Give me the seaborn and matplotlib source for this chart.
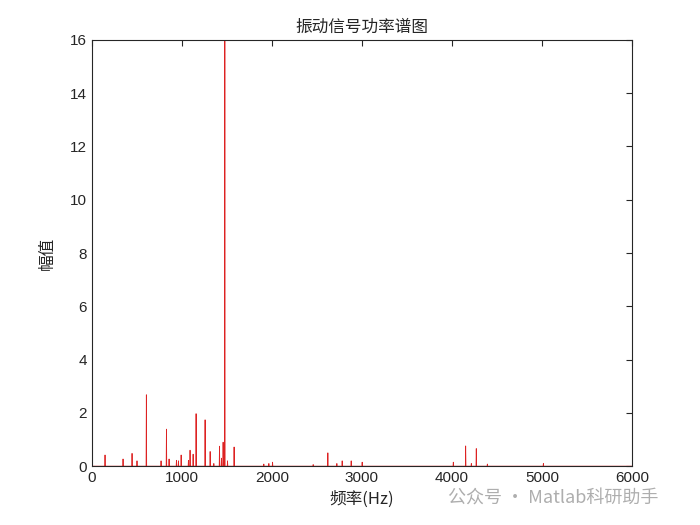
import numpy as np
import pandas as pd
import matplotlib
matplotlib.use("Agg")
import matplotlib.pyplot as plt
import seaborn as sns

# Spectral peaks (Hz, amplitude)
peak_freq = [148, 348, 448, 503, 607, 770, 830, 859, 941, 963, 993, 1074, 1092, 1126,
             1159, 1259, 1315, 1356, 1419, 1441, 1459, 1478, 1508, 1581, 1911, 1967,
             2008, 2459, 2622, 2722, 2781, 2881, 3003, 4015, 4152, 4215, 4270, 4393, 5015]
peak_amp = [0.42, 0.27, 0.48, 0.2, 2.68, 0.2, 1.39, 0.27, 0.22, 0.2, 0.42, 0.22, 0.6, 0.45,
            1.97, 1.74, 0.55, 0.1, 0.75, 0.3, 0.9, 25.0, 0.2, 0.72, 0.08, 0.1,
            0.15, 0.06, 0.5, 0.1, 0.2, 0.2, 0.15, 0.15, 0.76, 0.1, 0.66, 0.08, 0.1]

x_ticks = [0, 1000, 2000, 3000, 4000, 5000, 6000]
y_ticks = [0, 2, 4, 6, 8, 10, 12, 14, 16]

# build a spike trace: baseline -> peak -> baseline for each line
f_pts, a_pts = [0], [0]
for f, a in zip(peak_freq, peak_amp):
    f_pts += [f - 3, f, f + 3]
    a_pts += [0, a, 0]
f_pts.append(6000)
a_pts.append(0)
spec = pd.DataFrame({"freq": f_pts, "amp": a_pts})

sns.set_style("white")
plt.rcParams["font.family"] = ["Liberation Sans", "Noto Sans CJK SC", "DejaVu Sans"]

fig = plt.figure(figsize=(7, 5.25), dpi=100)
ax = fig.add_axes([0.131, 0.112, 0.772, 0.812])
sns.lineplot(data=spec, x="freq", y="amp", estimator=None, sort=False,
             color="#dd2222", linewidth=0.6, ax=ax)

ax.set_xlim(0, 6000)
ax.set_ylim(0, 16)
ax.set_xticks(x_ticks)
ax.set_yticks(y_ticks)
ax.tick_params(direction="in", top=True, right=True, labelsize=11, length=4, width=0.8)
for s in ax.spines.values():
    s.set_linewidth(0.8)
    s.set_color("#262626")

ax.set_title("振动信号功率谱图", fontsize=12, family=["Noto Sans CJK SC"], pad=6)
ax.set_xlabel("频率(Hz)", fontsize=12, family=["Noto Sans CJK SC", "Liberation Sans"], labelpad=4)
ax.set_ylabel("幅值", fontsize=12, family=["Noto Sans CJK SC"], labelpad=10)

fig.text(0.64, 0.04, "公众号 · Matlab科研助手", fontsize=13, color="#9a9a9a", alpha=0.8,
         family=["Noto Sans CJK SC", "Liberation Sans"])

plt.savefig("out.png", dpi=100)
